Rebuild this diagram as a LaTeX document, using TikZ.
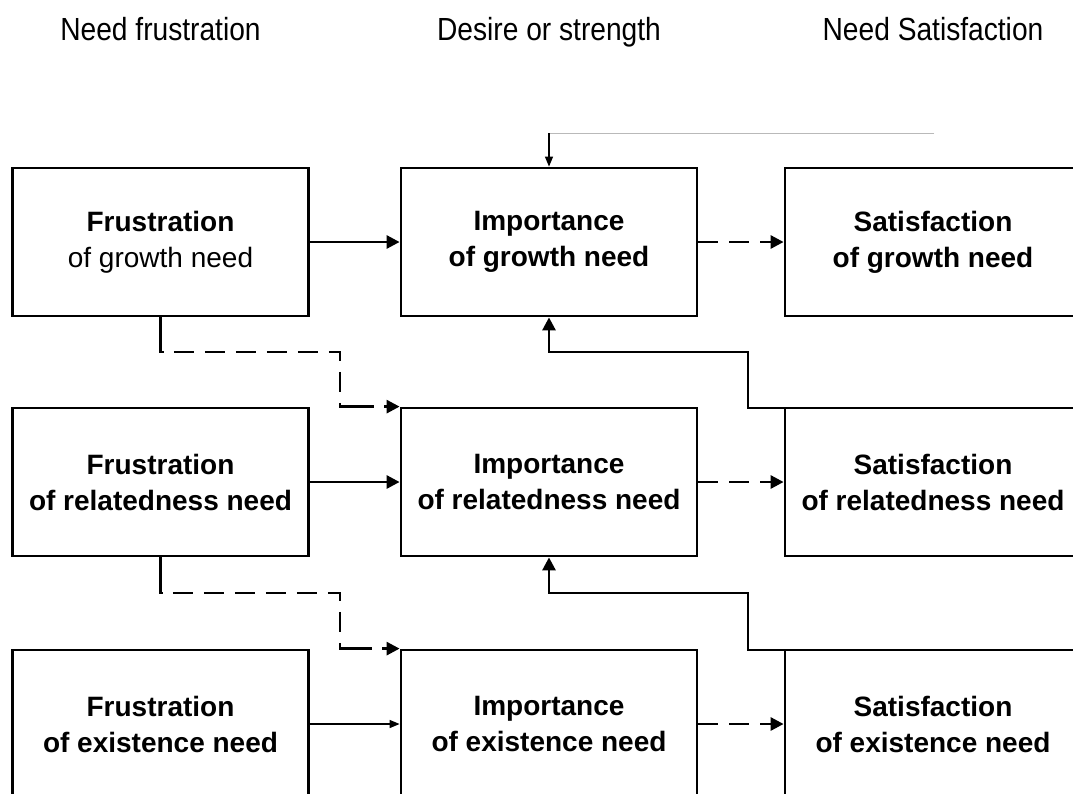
\documentclass[tikz,border=0pt]{standalone}
\usepackage{fontspec}
\usepackage{graphicx}
\setmainfont{Liberation Sans}
\usetikzlibrary{arrows.meta}
\begin{document}
\begin{tikzpicture}[x=1pt,y=-1pt,
  box/.style={draw, line width=2.8pt, minimum width=296pt, minimum height=148pt, inner sep=0pt, align=center, font=\fontsize{28}{36}\selectfont\bfseries},
  hdr/.style={inner sep=0pt, anchor=base, font=\fontsize{32}{36}\selectfont},
  arr/.style={line width=2.8pt, -{Triangle[length=13pt,width=13pt]}},
  darr/.style={arr, dash pattern=on 20pt off 11pt},
  longdash/.style={dash pattern=on 38pt off 10pt on 20pt off 11pt on 20pt off 11pt on 20pt off 11pt on 20pt off 11pt on 20pt off 11pt on 20pt off 11pt on 20pt off 11pt},
  thinarr/.style={line width=1.3pt, -{Triangle[length=10pt,width=8pt]}}]
\useasboundingbox (0,0) rectangle (1073,793);
\clip (0,0) rectangle (1073,793);
\fill[white] (0,0) rectangle (1073,793);

% headers
\node[hdr] (h1) at (160.5,40) {\scalebox{0.88}[1]{Need frustration}};
\node[hdr] (h2) at (549,40) {\scalebox{0.88}[1]{Desire or strength}};
\node[hdr] (h3) at (933,40) {\scalebox{0.88}[1]{Need Satisfaction}};

% boxes
\node[box] (fG) at (160.5,242) {Frustration\\\mdseries of growth need};
\node[box] (iG) at (549,242) {Importance\\of growth need};
\node[box] (sG) at (933,242) {Satisfaction\\of growth need};
\node[box] (fR) at (160.5,482) {Frustration\\of relatedness need};
\node[box] (iR) at (549,482) {Importance\\of relatedness need};
\node[box] (sR) at (933,482) {Satisfaction\\of relatedness need};
\node[box] (fE) at (160.5,724) {Frustration\\of existence need};
\node[box] (iE) at (549,724) {Importance\\of existence need};
\node[box] (sE) at (933,724) {Satisfaction\\of existence need};

% helper coordinates
\coordinate (t1) at (934,133);
\coordinate (d1) at (340,352);
\coordinate (d2) at (340,593);
\coordinate (e1) at (748,352);
\coordinate (e2) at (748,593);

% top feedback line
\draw[gray!55, line width=0.9pt] (t1) -- (iG.north |- t1);
\draw[thinarr] (iG.north |- t1) -- (iG.north);

% row connectors
\draw[arr] (fG.east) -- (iG.west);
\draw[darr] (iG.east) -- (sG.west);
\draw[arr] (fR.east) -- (iR.west);
\draw[darr] (iR.east) -- (sR.west);
\draw[thinarr] (fE.east) -- (iE.west);
\draw[darr] (iE.east) -- (sE.west);

% dashed elbows from frustration boxes
\draw[darr, longdash] (fG.south) |- (d1) |- (iR.north west);
\draw[darr, longdash] (fR.south) |- (d2) |- (iE.north west);

% solid elbows from satisfaction boxes
\draw[arr] ([yshift=-1.4pt]sR.north east) -| (e1) -| (iG.south);
\draw[arr] ([yshift=-1.4pt]sE.north east) -| (e2) -| (iR.south);
\end{tikzpicture}
\end{document}
